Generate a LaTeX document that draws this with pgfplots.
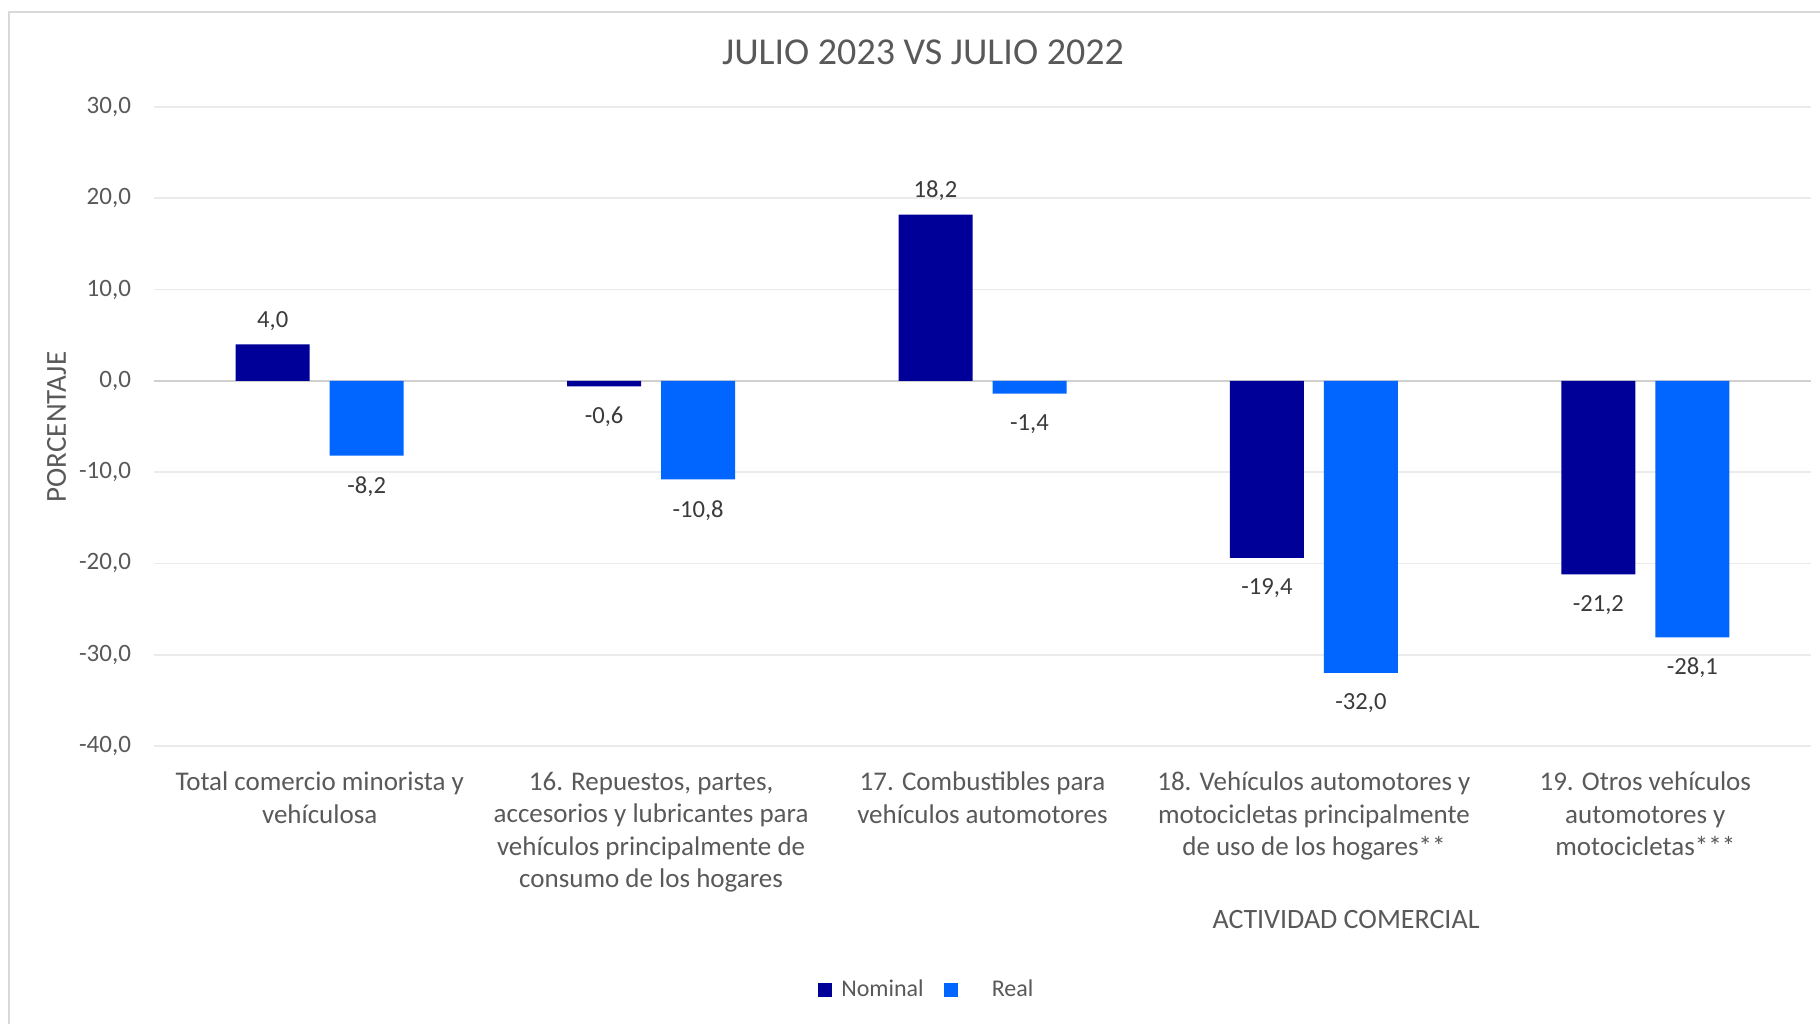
\documentclass[border=0pt]{standalone}
\usepackage{pgfplots}
\pgfplotsset{compat=1.18}
\usepackage{fontspec}
\setmainfont{Carlito}
\definecolor{nom}{HTML}{000099}
\definecolor{rea}{HTML}{0066FF}
\definecolor{txt}{HTML}{595959}
\definecolor{lbl}{HTML}{3A3A3A}
\definecolor{grd}{HTML}{EBEBEB}
\definecolor{zer}{HTML}{D0D0D0}
\begin{document}
\begin{tikzpicture}
\path[use as bounding box] (0pt,0pt) rectangle (910pt,512pt);
\draw[color=black!15, line width=1.2pt] (4.5pt,0pt) -- (4.5pt,506pt) -- (910pt,506pt);
\begin{axis}[
  at={(77pt,139pt)}, anchor=south west, scale only axis,
  width=828.5pt, height=319.5pt,
  ybar=10pt, bar width=37pt,
  xmin=-0.5, xmax=4.5, ymin=-40, ymax=30,
  ytick={-40,-30,...,30}, xtick={0,1,2,3,4},
  xticklabels={
    {Total comercio minorista y\\vehículosa},
    {16. Repuestos, partes,\\accesorios y lubricantes para\\vehículos principalmente de\\consumo de los hogares},
    {17. Combustibles para\\vehículos automotores},
    {18. Vehículos automotores y\\motocicletas principalmente\\de uso de los hogares**},
    {19. Otros vehículos\\automotores y\\motocicletas***}},
  xticklabel style={align=center, text=txt, font=\fontsize{13.5}{16.25}\selectfont, yshift=-9.5pt},
  yticklabel style={text=txt, font=\fontsize{12.5}{14}\selectfont, xshift=-8pt},
  ymajorgrids, grid style={color=grd, line width=0.8pt},
  axis line style={draw=none}, major tick length=0pt,
  /pgf/number format/fixed, /pgf/number format/fixed zerofill,
  /pgf/number format/precision=1, /pgf/number format/use comma,
  /pgf/number format/assume math mode=true,
  nodes near coords,
  every node near coord/.append style={text=lbl, font=\fontsize{12.3}{14}\selectfont, inner sep=8.5pt, yshift=-1.7pt},
  area legend,
  legend image code/.code={\fill[#1] (0pt,-3.5pt) rectangle (7pt,3.5pt);},
  legend style={at={(0.467,-0.382)}, anchor=center, draw=none, legend columns=2,
    font=\fontsize{12}{14}\selectfont, text=txt,
    /tikz/every even column/.append style={column sep=8pt}},
]
\draw[color=zer, line width=1pt] (axis cs:-0.5,0) -- (axis cs:4.5,0);
\addplot[fill=nom, draw=none] coordinates {(0,4.0) (1,-0.6) (2,18.2) (3,-19.4) (4,-21.2)};
\addplot[fill=rea, draw=none] coordinates {(0,-8.2) (1,-10.8) (2,-1.4) (3,-32.0) (4,-28.1)};
\legend{\hspace{2.5pt}Nominal,\hspace{15pt}Real}
\end{axis}
\node[text=txt, font=\fontsize{19}{22}\selectfont] at (461.5pt,486pt) {JULIO 2023 VS JULIO 2022};
\node[text=txt, font=\fontsize{14.5}{16}\selectfont, rotate=90] at (28.3pt,298.5pt) {PORCENTAJE};
\node[text=txt, font=\fontsize{14}{16}\selectfont] at (673pt,52pt) {ACTIVIDAD COMERCIAL};
\end{tikzpicture}
\end{document}
